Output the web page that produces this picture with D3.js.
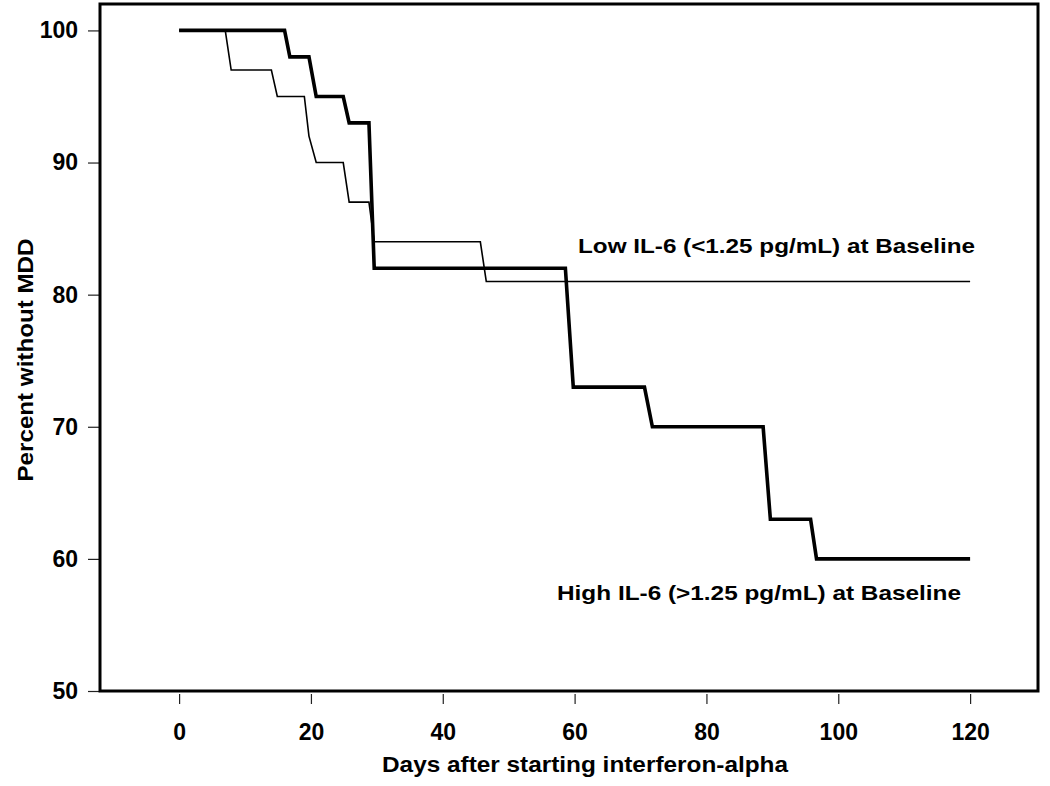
<!DOCTYPE html>
<html>
<head>
<meta charset="utf-8">
<script src="https://cdn.jsdelivr.net/npm/d3@7"></script>
<style>
  html, body { margin: 0; padding: 0; background: #fff; }
  svg { display: block; }
</style>
</head>
<body>
<div id="chart"></div>
<script>
// ---- Data ----
const xTicks = [0, 20, 40, 60, 80, 100, 120];
const yTicks = [50, 60, 70, 80, 90, 100];
// High IL-6 (thick) step curve: days and percent
const highDays   = [0, 16, 16.8, 19.7, 20.8, 24.9, 25.8, 28.8, 29.6, 58.6, 59.8, 70.6, 71.8, 88.6, 89.7, 95.8, 96.7, 120];
const highValues = [100, 100, 98, 98, 95, 95, 93, 93, 82, 82, 73, 73, 70, 70, 63, 63, 60, 60];
// Low IL-6 (thin) step curve
const lowDays   = [0, 7.0, 7.9, 14.0, 14.9, 19.0, 19.7, 20.8, 24.9, 25.8, 28.8, 29.6, 45.7, 46.6, 120];
const lowValues = [100, 100, 97, 97, 95, 95, 92, 90, 90, 87, 87, 84, 84, 81, 81];
const lowLabel = "Low IL-6 (<1.25 pg/mL) at Baseline";
const highLabel = "High IL-6 (>1.25 pg/mL) at Baseline";
const xTitle = "Days after starting interferon-alpha";
const yTitle = "Percent without MDD";

// ---- Layout ----
const W = 1050, H = 786;
const margin = {left: 100, right: 12, top: 4, bottom: 95};
const w = W - margin.left - margin.right;
const h = H - margin.top - margin.bottom;

const svg = d3.select("#chart").append("svg").attr("width", W).attr("height", H);
const g = svg.append("g").attr("transform", `translate(${margin.left},${margin.top})`);

const x = d3.scaleLinear().domain([-12, 130.3]).range([0, w]);
const y = d3.scaleLinear().domain([50, 102]).range([h, 0]);

const boldFont = "'Liberation Sans', Arial, Helvetica, sans-serif";
const narrowFont = "'Liberation Sans Narrow', 'Arial Narrow', 'Liberation Sans', Arial, sans-serif";

// Y axis
const yAxis = g.append("g")
  .call(d3.axisLeft(y).tickValues(yTicks).tickSize(12).tickPadding(10).tickFormat(d3.format("d")));
yAxis.select(".domain").remove();
yAxis.selectAll(".tick line").attr("stroke", "#222").attr("stroke-width", 1.2);
yAxis.selectAll(".tick text")
  .attr("font-family", boldFont).attr("font-weight", "bold").attr("font-size", 23).attr("fill", "#000");

// X axis
const xAxis = g.append("g").attr("transform", `translate(0,${h + 3})`)
  .call(d3.axisBottom(x).tickValues(xTicks).tickSize(10).tickPadding(20).tickFormat(d3.format("d")));
xAxis.select(".domain").remove();
xAxis.selectAll(".tick line").attr("stroke", "#222").attr("stroke-width", 1.2);
xAxis.selectAll(".tick text")
  .attr("font-family", boldFont).attr("font-weight", "bold").attr("font-size", 23).attr("fill", "#000");

// Frame
g.append("rect").attr("x", 0).attr("y", 0).attr("width", w).attr("height", h)
  .attr("fill", "none").attr("stroke", "#000").attr("stroke-width", 3);

// Curves
const line = d3.line().x(d => x(d[0])).y(d => y(d[1]));
const lowData = lowDays.map((d, i) => [d, lowValues[i]]);
const highData = highDays.map((d, i) => [d, highValues[i]]);

g.append("path").datum(lowData).attr("d", line)
  .attr("fill", "none").attr("stroke", "#000").attr("stroke-width", 1.6).attr("stroke-linejoin", "miter");
g.append("path").datum(highData).attr("d", line)
  .attr("fill", "none").attr("stroke", "#000").attr("stroke-width", 3.6).attr("stroke-linejoin", "miter");

// Annotations
g.append("text").attr("x", 578 - margin.left).attr("y", 253 - margin.top)
  .attr("font-family", boldFont).attr("font-weight", "bold").attr("font-size", 21)
  .attr("textLength", 397).attr("lengthAdjust", "spacingAndGlyphs")
  .text(lowLabel);
g.append("text").attr("x", 557 - margin.left).attr("y", 600 - margin.top)
  .attr("font-family", boldFont).attr("font-weight", "bold").attr("font-size", 21)
  .attr("textLength", 404).attr("lengthAdjust", "spacingAndGlyphs")
  .text(highLabel);

// Axis titles
svg.append("text").attr("x", 585).attr("y", 772).attr("text-anchor", "middle")
  .attr("font-family", narrowFont).attr("font-weight", "bold").attr("font-size", 22)
  .attr("textLength", 406).attr("lengthAdjust", "spacingAndGlyphs")
  .text(xTitle);
svg.append("text").attr("transform", "translate(33,360) rotate(-90)").attr("text-anchor", "middle")
  .attr("font-family", narrowFont).attr("font-weight", "bold").attr("font-size", 22)
  .attr("textLength", 243).attr("lengthAdjust", "spacingAndGlyphs")
  .text(yTitle);
</script>
</body>
</html>
